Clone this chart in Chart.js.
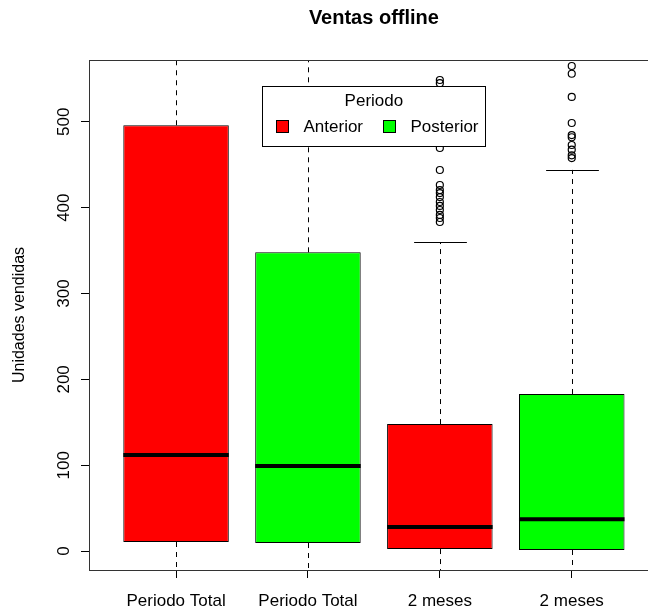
<!DOCTYPE html>
<html>
<head>
<meta charset="utf-8">
<title>Ventas offline</title>
<script src="https://cdn.jsdelivr.net/npm/chart.js@4.4.1/dist/chart.umd.min.js"></script>
<style>
  html, body { margin: 0; padding: 0; background: #fff; overflow: hidden; }
  canvas { display: block; }
</style>
</head>
<body>
<canvas id="myChart" width="664" height="607"></canvas>
<script>
// box labels under the x axis, one per box
const categories = ['Periodo Total', 'Periodo Total', '2 meses', '2 meses'];

// box statistics (unidades vendidas)
// whiskers of the first boxes run out of the plot, so only their direction matters
const lowerWhisker = [-45, -40, -30, -30];
const q1 = [10.6, 9.4, 2.4, 1.3];
const medians = [112, 99, 28, 37];
const q3 = [496, 348, 148, 183];
const upperWhisker = [1100, 780, 360, 444];

// outliers of every box
const outliers = [
  [],
  [],
  [548.7, 545, 469.5, 443.9, 426.4, 420.5, 417, 412.4, 406.6, 402, 397.3, 391.5, 388, 383.3],
  [565, 556, 529, 498.6, 484.6, 482, 473, 467.5, 461, 457.8]
];

const yTicks = [0, 100, 200, 300, 400, 500];

// legend
const legendTitle = 'Periodo';
const legendLabels = ['Anterior', 'Posterior'];

const red = '#ff0000';
const green = '#00ff00';
const boxColors = [red, green, red, green];
const legendColors = [red, green];

const fontFamily = '"Liberation Sans", Arial, Helvetica, sans-serif';
Chart.defaults.font.family = fontFamily;
Chart.defaults.color = '#000';

// box rows for the floating bar dataset
let boxData = categories.map((c, i) => {
  return {x: i + 1, y: [q1[i], q3[i]]};
});

// outlier points
let outlierData = [];
for (let i = 0; i < outliers.length; i++) {
  for (let j = 0; j < outliers[i].length; j++) {
    outlierData.push({x: i + 1, y: outliers[i][j]});
  }
}

// whiskers go under the boxes
const whiskerPlugin = {
  id: 'whiskers',
  beforeDatasetsDraw(chart) {
    const ctx = chart.ctx;
    const area = chart.chartArea;
    const y = chart.scales.y;
    const bars = chart.getDatasetMeta(0).data;
    ctx.save();
    ctx.beginPath();
    ctx.rect(area.left, area.top, area.right - area.left, area.bottom - area.top);
    ctx.clip();
    ctx.strokeStyle = '#000';
    ctx.lineWidth = 1;
    bars.forEach((bar, i) => {
      const x = Math.round(bar.x) + 0.5;
      const cap = bar.width * 0.25;
      ctx.setLineDash([5, 5]);
      ctx.beginPath();
      ctx.moveTo(x, y.getPixelForValue(q3[i]));
      ctx.lineTo(x, y.getPixelForValue(upperWhisker[i]));
      ctx.moveTo(x, y.getPixelForValue(q1[i]));
      ctx.lineTo(x, y.getPixelForValue(lowerWhisker[i]));
      ctx.stroke();
      ctx.setLineDash([]);
      ctx.beginPath();
      const yu = Math.round(y.getPixelForValue(upperWhisker[i])) + 0.5;
      const yl = Math.round(y.getPixelForValue(lowerWhisker[i])) + 0.5;
      ctx.moveTo(x - cap, yu);
      ctx.lineTo(x + cap, yu);
      ctx.moveTo(x - cap, yl);
      ctx.lineTo(x + cap, yl);
      ctx.stroke();
    });
    ctx.restore();
  },
  afterDatasetsDraw(chart) {
    const ctx = chart.ctx;
    const area = chart.chartArea;
    const y = chart.scales.y;
    const bars = chart.getDatasetMeta(0).data;
    ctx.save();
    // thick median lines
    ctx.strokeStyle = '#000';
    ctx.lineWidth = 4;
    bars.forEach((bar, i) => {
      const ym = y.getPixelForValue(medians[i]);
      ctx.beginPath();
      ctx.moveTo(bar.x - bar.width / 2, ym);
      ctx.lineTo(bar.x + bar.width / 2, ym);
      ctx.stroke();
    });
    // plot frame
    ctx.lineWidth = 1;
    ctx.strokeStyle = '#333';
    ctx.strokeRect(Math.round(area.left) + 0.5, Math.round(area.top) + 0.5,
      Math.round(area.right - area.left), Math.round(area.bottom - area.top));
    ctx.restore();
  }
};

// legend in the top middle of the plot, drawn over the outliers
const legendPlugin = {
  id: 'boxLegend',
  afterDraw(chart) {
    const ctx = chart.ctx;
    const area = chart.chartArea;
    const cx = (area.left + area.right) / 2;
    const w = 223;
    const h = 60;
    const left = Math.round(cx - w / 2) + 0.5;
    const top = Math.round(area.top + 0.05 * (area.bottom - area.top)) + 0.5;
    ctx.save();
    ctx.fillStyle = '#fff';
    ctx.fillRect(left, top, w, h);
    ctx.strokeStyle = '#000';
    ctx.lineWidth = 1;
    ctx.strokeRect(left, top, w, h);

    ctx.font = '17px ' + fontFamily;
    ctx.fillStyle = '#000';
    ctx.textBaseline = 'middle';
    ctx.textAlign = 'center';
    ctx.fillText(legendTitle, cx, top + 15);

    const keyX = [14, 121];
    ctx.textAlign = 'left';
    legendLabels.forEach((label, i) => {
      const kx = left + keyX[i];
      const ky = top + 34;
      ctx.fillStyle = legendColors[i];
      ctx.fillRect(kx, ky, 12, 12);
      ctx.strokeRect(kx, ky, 12, 12);
      ctx.fillStyle = '#000';
      ctx.fillText(label, kx + 27, ky + 6.5);
    });
    ctx.restore();
  }
};

const myChart = document.getElementById('myChart');

let boxChart = new Chart(myChart, {
  type: 'bar',
  data: {
    datasets: [
      {
        type: 'bar',
        label: 'cajas',
        data: boxData,
        backgroundColor: boxColors,
        borderColor: '#000',
        borderWidth: 1,
        borderSkipped: false,
        barPercentage: 0.8,
        categoryPercentage: 1,
        grouped: false
      },
      {
        type: 'scatter',
        label: 'atipicos',
        data: outlierData,
        pointRadius: 3.5,
        pointBorderWidth: 1.2,
        pointBorderColor: '#000',
        pointBackgroundColor: 'rgba(0,0,0,0)',
        clip: 0
      }
    ]
  },
  options: {
    responsive: false,
    animation: false,
    devicePixelRatio: 1,
    layout: {padding: {left: 0, right: 4, top: 0, bottom: 0}},
    plugins: {
      legend: {display: false},
      tooltip: {enabled: false},
      title: {
        display: true,
        text: 'Ventas offline',
        fullSize: false,
        color: '#000',
        font: {size: 20, weight: 'bold', family: fontFamily},
        padding: {top: 6, bottom: 30}
      }
    },
    scales: {
      x: {
        type: 'linear',
        min: 0.34,
        max: 4.66,
        offset: false,
        afterBuildTicks: scale => {
          scale.ticks = categories.map((c, i) => ({value: i + 1}));
        },
        afterFit: scale => { scale.height = 37; },
        ticks: {
          autoSkip: false,
          maxRotation: 0,
          padding: 13,
          color: '#000',
          font: {size: 17},
          callback: value => categories[value - 1]
        },
        grid: {drawOnChartArea: false, drawTicks: true, tickLength: 8, color: '#000', offset: false},
        border: {display: true, color: '#333'}
      },
      y: {
        type: 'linear',
        min: -22,
        max: 572,
        afterBuildTicks: scale => {
          scale.ticks = yTicks.map(v => ({value: v}));
        },
        afterFit: scale => { scale.width = 89; },
        ticks: {
          minRotation: 90,
          maxRotation: 90,
          crossAlign: 'center',
          padding: 3,
          color: '#000',
          font: {size: 17}
        },
        grid: {drawOnChartArea: false, drawTicks: true, tickLength: 8, color: '#000'},
        border: {display: true, color: '#333'},
        title: {
          display: true,
          text: 'Unidades vendidas',
          color: '#000',
          font: {size: 16},
          padding: {top: 10, bottom: 0}
        }
      }
    }
  },
  plugins: [whiskerPlugin, legendPlugin]
});
</script>
</body>
</html>
